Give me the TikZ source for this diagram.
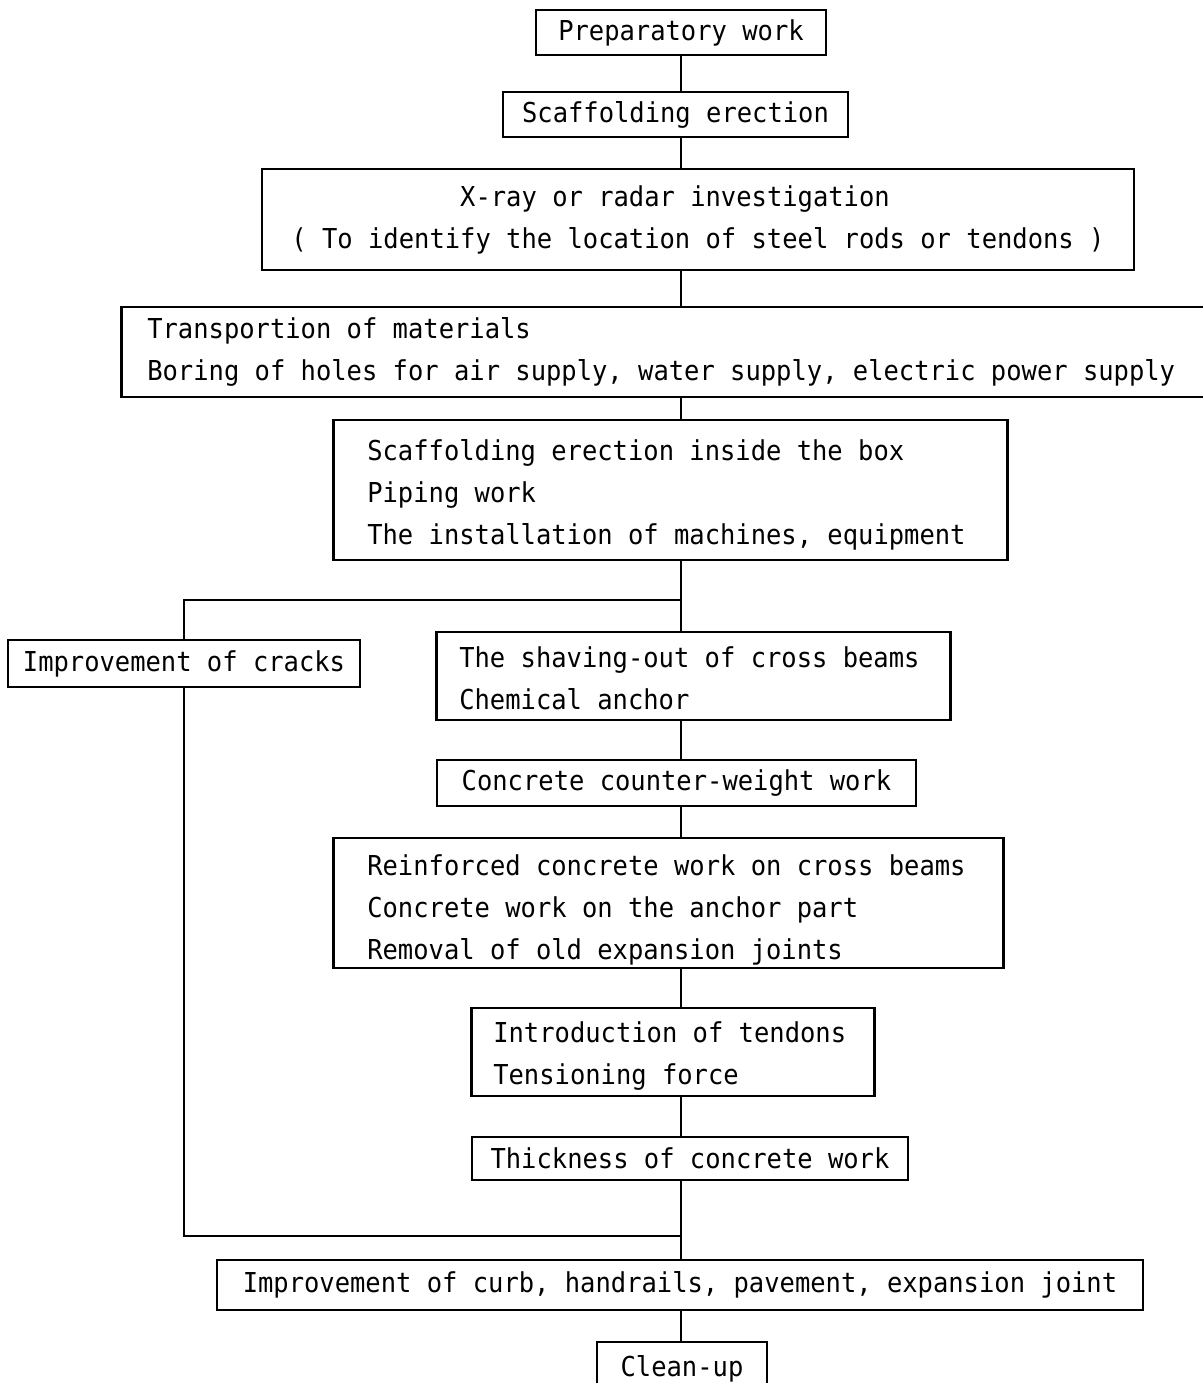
\documentclass[tikz,border=0pt]{standalone}
\usepackage{fontspec}
\newfontfamily\ttf[FakeStretch=0.93]{DejaVu Sans Mono}
\newcommand\topfill[1]{\rule{0pt}{#1}}
\begin{document}
\begin{tikzpicture}[x=0.5pt,y=-0.5pt,
  bx/.style={draw, line width=1.3pt, inner sep=0pt, font=\ttf\fontsize{13.7pt}{21pt}\selectfont},
  lbx/.style={bx, anchor=west, align=flush left},
  conn/.style={line width=1pt}]
\useasboundingbox (0,0) rectangle (1203,1383);
\fill[white] (0,0) rectangle (1203,1383);
\coordinate (spine) at (681,0);
% boxes
\node[bx, minimum width=145pt, minimum height=22.5pt] (prep) at (681,32.5) {Preparatory work};
\node[bx, minimum width=172.5pt, minimum height=22.5pt] (scaff) at (675.5,114.5) {Scaffolding erection};
\node[bx, minimum width=436pt, minimum height=50.5pt, align=center] (xray) at (698,219.5)
  {\mbox{X-ray or radar investigation}\hspace*{23pt}\\\mbox{( To identify the location of steel rods or tendons )}};
\node[lbx, text width=519pt, inner xsep=13pt, minimum height=45pt] (transp) at (120,352)
  {\mbox{Transportion of materials}\\\mbox{Boring of holes for air supply, water supply, electric power supply}};
\node[lbx, text width=303pt, inner xsep=17pt, minimum height=70pt] (inside) at (332,490)
  {\topfill{15.4pt}\mbox{Scaffolding erection inside the box}\\\mbox{Piping work}\\\mbox{The installation of machines, equipment}};
\node[bx, minimum width=176pt, minimum height=23.5pt] (cracks) at (184,663.5) {Improvement of cracks};
\node[lbx, text width=234pt, inner xsep=11.5pt, minimum height=44pt] (shave) at (435,676)
  {\topfill{12.9pt}\mbox{The shaving-out of cross beams}\\\mbox{Chemical anchor}};
\node[bx, minimum width=239.5pt, minimum height=23pt] (counter) at (676.5,783) {Concrete counter-weight work};
\node[lbx, text width=301pt, inner xsep=17pt, minimum height=65pt] (reinf) at (332,903)
  {\topfill{17.4pt}\mbox{Reinforced concrete work on cross beams}\\\mbox{Concrete work on the anchor part}\\\mbox{Removal of old expansion joints}};
\node[lbx, text width=179.5pt, inner xsep=11pt, minimum height=44pt] (tendons) at (470,1052)
  {\topfill{14.4pt}\mbox{Introduction of tendons}\\\mbox{Tensioning force}};
\node[bx, minimum width=218pt, minimum height=21.5pt] (thick) at (690,1158.5) {Thickness of concrete work};
\node[bx, minimum width=463pt, minimum height=25pt] (curb) at (680,1285) {Improvement of curb, handrails, pavement, expansion joint};
\node[bx, minimum width=85pt, minimum height=26.5pt] (clean) at (682,1368.5) {Clean-up};
% branch points
\coordinate (split) at (681,600);
\coordinate (join) at (681,1236);
% connectors
\draw[conn] (prep.south -| spine) -- (scaff.north -| spine);
\draw[conn] (scaff.south -| spine) -- (xray.north -| spine);
\draw[conn] (xray.south -| spine) -- (transp.north -| spine);
\draw[conn] (transp.south -| spine) -- (inside.north -| spine);
\draw[conn] (inside.south -| spine) -- (split) -- (shave.north -| spine);
\draw[conn] (split) -- (split -| cracks) -- (cracks.north);
\draw[conn] (shave.south -| spine) -- (counter.north -| spine);
\draw[conn] (counter.south -| spine) -- (reinf.north -| spine);
\draw[conn] (reinf.south -| spine) -- (tendons.north -| spine);
\draw[conn] (tendons.south -| spine) -- (thick.north -| spine);
\draw[conn] (thick.south -| spine) -- (curb.north -| spine);
\draw[conn] (cracks.south) -- (join -| cracks) -- (join);
\draw[conn] (curb.south -| spine) -- (clean.north -| spine);
\end{tikzpicture}
\end{document}
